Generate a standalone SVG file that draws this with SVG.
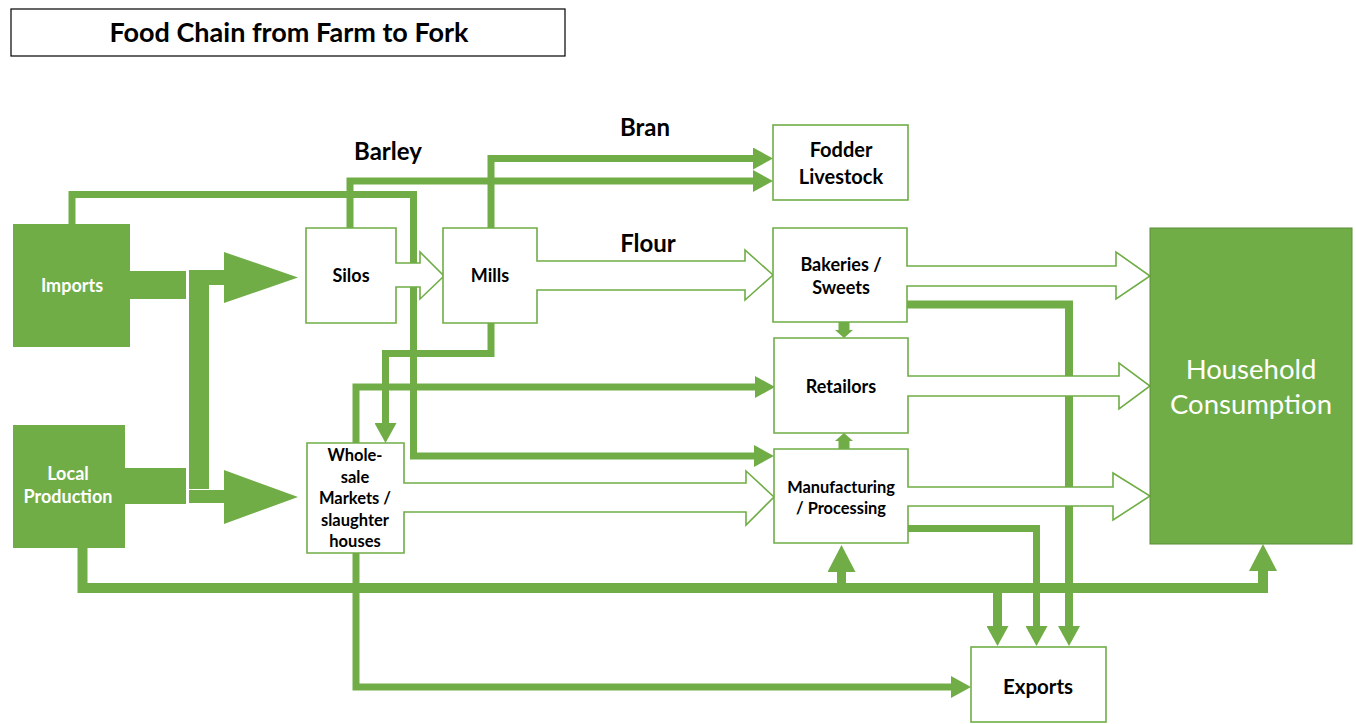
<svg xmlns="http://www.w3.org/2000/svg" width="1356" height="724" viewBox="0 0 1356 724">
<style>
.bg{fill:#ffffff}
.t{font-family:Lato,"Liberation Sans",sans-serif;font-weight:bold;fill:#000;text-anchor:middle}
.tw{font-family:Lato,"Liberation Sans",sans-serif;font-weight:bold;fill:#fff;text-anchor:middle}
.node{fill:#fff;stroke:#70AD47;stroke-width:1.6}
.solid{fill:#70AD47}
.c{fill:none;stroke:#70AD47;stroke-width:7;stroke-linejoin:miter}
.cb{fill:none;stroke:#70AD47;stroke-width:10;stroke-linejoin:miter}
</style>
<defs>
<marker id="ah" markerUnits="userSpaceOnUse" viewBox="0 0 20 22" refX="0" refY="11" markerWidth="20" markerHeight="22" orient="auto">
<path d="M0,0 L20,11 L0,22 Z" fill="#70AD47"/>
</marker>
<marker id="ahL" markerUnits="userSpaceOnUse" viewBox="0 0 27 28" refX="0" refY="14" markerWidth="27" markerHeight="28" orient="auto">
<path d="M0,0 L27,14 L0,28 Z" fill="#70AD47"/>
</marker>
</defs>
<rect class="bg" x="0" y="0" width="1356" height="724"/>

<g id="title">
<rect x="11" y="9" width="554" height="47" fill="#fff" stroke="#000" stroke-width="1.2"/>
<text class="t" x="289" y="42" font-size="27">Food Chain from Farm to Fork</text>
</g>

<g id="connectors">
<path class="c" d="M72,224 V194.5 H413.5 V456 H754" marker-end="url(#ah)"/>
<path class="c" d="M350,228 V181 H753" marker-end="url(#ah)"/>
<path class="c" d="M491,228 V158.5 H753" marker-end="url(#ah)"/>
<path class="c" d="M491,323 V353.5 H385.5 V423" marker-end="url(#ah)"/>
<path class="c" d="M356,443 V387 H755" marker-end="url(#ah)"/>
<path class="c" d="M356,553 V687 H951" marker-end="url(#ah)"/>
<path class="cb" d="M82.5,548 V588 H1263 V571" marker-end="url(#ahL)"/>
<path fill="none" stroke="#70AD47" stroke-width="9" d="M841.5,588 V572" marker-end="url(#ahL)"/>
<path fill="none" stroke="#70AD47" stroke-width="9" d="M997.5,588 V626" marker-end="url(#ah)"/>
<path class="c" d="M908,528.5 H1036.5 V626" marker-end="url(#ah)"/>
<path fill="none" stroke="#70AD47" stroke-width="8" d="M907,304.5 H1069 V626" marker-end="url(#ah)"/>
<polygon class="solid" points="838.5,322 849.5,322 849.5,330 853,330 844,338 835,330 838.5,330"/>
<polygon class="solid" points="838.5,449 849.5,449 849.5,441 853,441 844,433 835,441 838.5,441"/>
<rect class="solid" x="189" y="285" width="20" height="204"/>
<path class="solid" d="M189,270 H224 V252 L298,277.5 L224,303 V285 H189 Z"/>
<path class="solid" d="M189,490 H224 V470 L298,497 L224,524 V503 H189 Z"/>
</g>

<g id="imports">
<path class="solid" d="M13,224 H130 V271 H186 V299 H130 V347 H13 Z"/>
<text class="tw" x="72" y="292" font-size="18">Imports</text>
</g>

<g id="local-production">
<path class="solid" d="M13,425 H125 V468 H186 V504 H125 V548 H13 Z"/>
<text class="tw" x="68" y="480" font-size="18">Local</text>
<text class="tw" x="68" y="503" font-size="18">Production</text>
</g>

<g id="silos">
<path class="node" d="M306,228 H396 V263 H420 V252 L444,276 L420,299 V287 H396 V323 H306 Z"/>
<text class="t" x="351" y="282" font-size="18">Silos</text>
</g>

<g id="mills">
<path class="node" d="M443,228 H537 V261 H745 V250 L773,275 L745,300 V290 H537 V323 H443 Z"/>
<text class="t" x="490" y="282" font-size="18">Mills</text>
</g>

<g id="wholesale">
<path class="node" d="M307,443 H404 V483 H746 V471 L774,497 L746,525 V512 H404 V553 H307 Z"/>
<text class="t" x="355" y="461" font-size="16.5">Whole-</text>
<text class="t" x="355" y="483" font-size="16.5">sale</text>
<text class="t" x="355" y="504" font-size="16.5">Markets /</text>
<text class="t" x="355" y="526" font-size="16.5">slaughter</text>
<text class="t" x="355" y="547" font-size="16.5">houses</text>
</g>

<g id="fodder">
<rect class="node" x="773" y="125" width="135" height="75"/>
<text class="t" x="841" y="157" font-size="20">Fodder</text>
<text class="t" x="841" y="184" font-size="20">Livestock</text>
</g>

<g id="bakeries">
<path class="node" d="M773,228 H907 V266 H1116 V252 L1150,276 L1116,299 V286 H907 V322 H773 Z"/>
<text class="t" x="841" y="271" font-size="18">Bakeries /</text>
<text class="t" x="841" y="294" font-size="18">Sweets</text>
</g>

<g id="retailors">
<path class="node" d="M774,338 H908 V376 H1119 V363 L1150,386 L1119,409 V396 H908 V433 H774 Z"/>
<text class="t" x="841" y="393" font-size="18">Retailors</text>
</g>

<g id="manufacturing">
<path class="node" d="M774,449 H908 V487 H1113 V473 L1150,496 L1113,520 V506 H908 V543 H774 Z"/>
<text class="t" x="841" y="493" font-size="16.4">Manufacturing</text>
<text class="t" x="841" y="514" font-size="16.4">/ Processing</text>
</g>

<g id="household">
<rect x="1150" y="228" width="202" height="316" fill="#70AD47" stroke="#5B8E3A" stroke-width="1"/>
<text x="1251" y="379" font-size="27.5" fill="#fff" text-anchor="middle" font-family="Lato,'Liberation Sans',sans-serif">Household</text>
<text x="1251" y="414" font-size="27.5" fill="#fff" text-anchor="middle" font-family="Lato,'Liberation Sans',sans-serif">Consumption</text>
</g>

<g id="exports">
<rect class="node" x="971" y="647" width="135" height="75"/>
<text class="t" x="1038" y="694" font-size="20.5">Exports</text>
</g>

<g id="labels">
<text class="t" x="388" y="160" font-size="24">Barley</text>
<text class="t" x="645" y="136" font-size="24">Bran</text>
<text class="t" x="648" y="252" font-size="24">Flour</text>
</g>
</svg>
